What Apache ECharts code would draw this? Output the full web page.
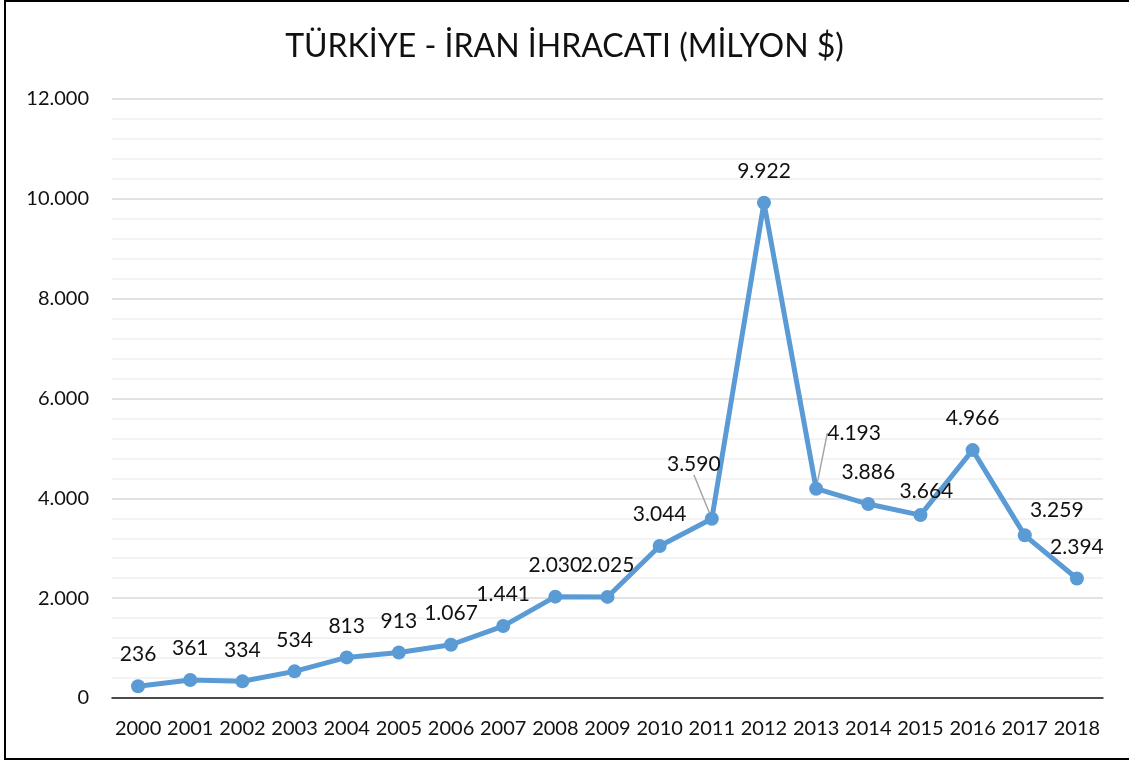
<!DOCTYPE html>
<html>
<head>
<meta charset="utf-8">
<title>Türkiye - İran İhracatı</title>
<script src="https://cdn.jsdelivr.net/npm/echarts@6/dist/echarts.min.js"></script>
<style>
  html, body { margin: 0; padding: 0; background: #fff; }
  #chart { width: 1129px; height: 760px; }
</style>
</head>
<body>
<div id="chart"></div>
<script>
// yıllar ve ihracat değerleri (milyon $)
const years = ['2000', '2001', '2002', '2003', '2004', '2005', '2006', '2007', '2008', '2009',
  '2010', '2011', '2012', '2013', '2014', '2015', '2016', '2017', '2018']
const exports = [236, 361, 334, 534, 813, 913, 1067, 1441, 2030, 2025,
  3044, 3590, 9922, 4193, 3886, 3664, 4966, 3259, 2394]
const yTicks = [0, 2000, 4000, 6000, 8000, 10000, 12000]

const font = 'Lato, "Noto Sans", sans-serif'

// 1.441 gibi nokta ile binlik ayırıcı
function fmt(v) {
  return String(v).replace(/\B(?=(\d{3})+(?!\d))/g, '.')
}

// etiket kaydırmaları (bazı etiketler Excel'de elle taşınmış)
const labelShift = {
  11: { dx: -18, dy: -23 },
  13: { dx: 38, dy: -24 },
  15: { dx: 6, dy: 8 },
  17: { dx: 32, dy: 6 }
}

const chart = echarts.init(document.getElementById('chart'))
chart.setOption({
  animation: false,
  backgroundColor: '#fff',
  textStyle: { fontFamily: font },
  title: {
    text: 'TÜRKİYE - İRAN İHRACATI (MİLYON $)',
    left: 'center',
    top: 26,
    textStyle: { fontFamily: font, fontSize: 32, fontWeight: 'normal', color: '#111' }
  },
  graphic: [{
    type: 'rect',
    shape: { x: 5, y: 1, width: 1135, height: 758 },
    style: { fill: 'none', stroke: '#000', lineWidth: 2 },
    z: 100
  }],
  grid: {
    left: 112,
    right: 26,
    top: 99,
    bottom: 62
  },
  xAxis: {
    type: 'category',
    data: years,
    boundaryGap: true,
    axisLine: { lineStyle: { color: '#1a1a1a', width: 1.5 } },
    axisTick: { show: false },
    axisLabel: { fontFamily: font, fontSize: 20, color: '#111', margin: 21, interval: 0 }
  },
  yAxis: {
    type: 'value',
    min: yTicks[0],
    max: yTicks[yTicks.length - 1],
    interval: 2000,
    axisLine: { show: false },
    axisTick: { show: false },
    axisLabel: {
      fontFamily: font,
      fontSize: 20,
      color: '#111',
      margin: 23,
      formatter: fmt
    },
    splitLine: { lineStyle: { color: '#d9d9d9', width: 1.5 } },
    minorTick: { show: false, splitNumber: 5 },
    minorSplitLine: { show: true, lineStyle: { color: '#efefef', width: 1.5 } }
  },
  series: [{
    type: 'line',
    data: exports.map((v, i) => {
      if (i === 11 || i === 13) {
        return { value: v, labelLine: { show: true } }
      }
      return v
    }),
    symbol: 'circle',
    symbolSize: 14,
    lineStyle: { color: '#5b9bd5', width: 5 },
    itemStyle: { color: '#5b9bd5' },
    label: {
      show: true,
      position: 'top',
      distance: 14,
      fontFamily: font,
      fontSize: 21,
      color: '#111',
      formatter: p => fmt(p.value)
    },
    labelLine: {
      show: false,
      lineStyle: { color: '#a6a6a6', width: 1.5 }
    },
    labelLayout: p => labelShift[p.dataIndex] || {}
  }]
})
</script>
</body>
</html>
